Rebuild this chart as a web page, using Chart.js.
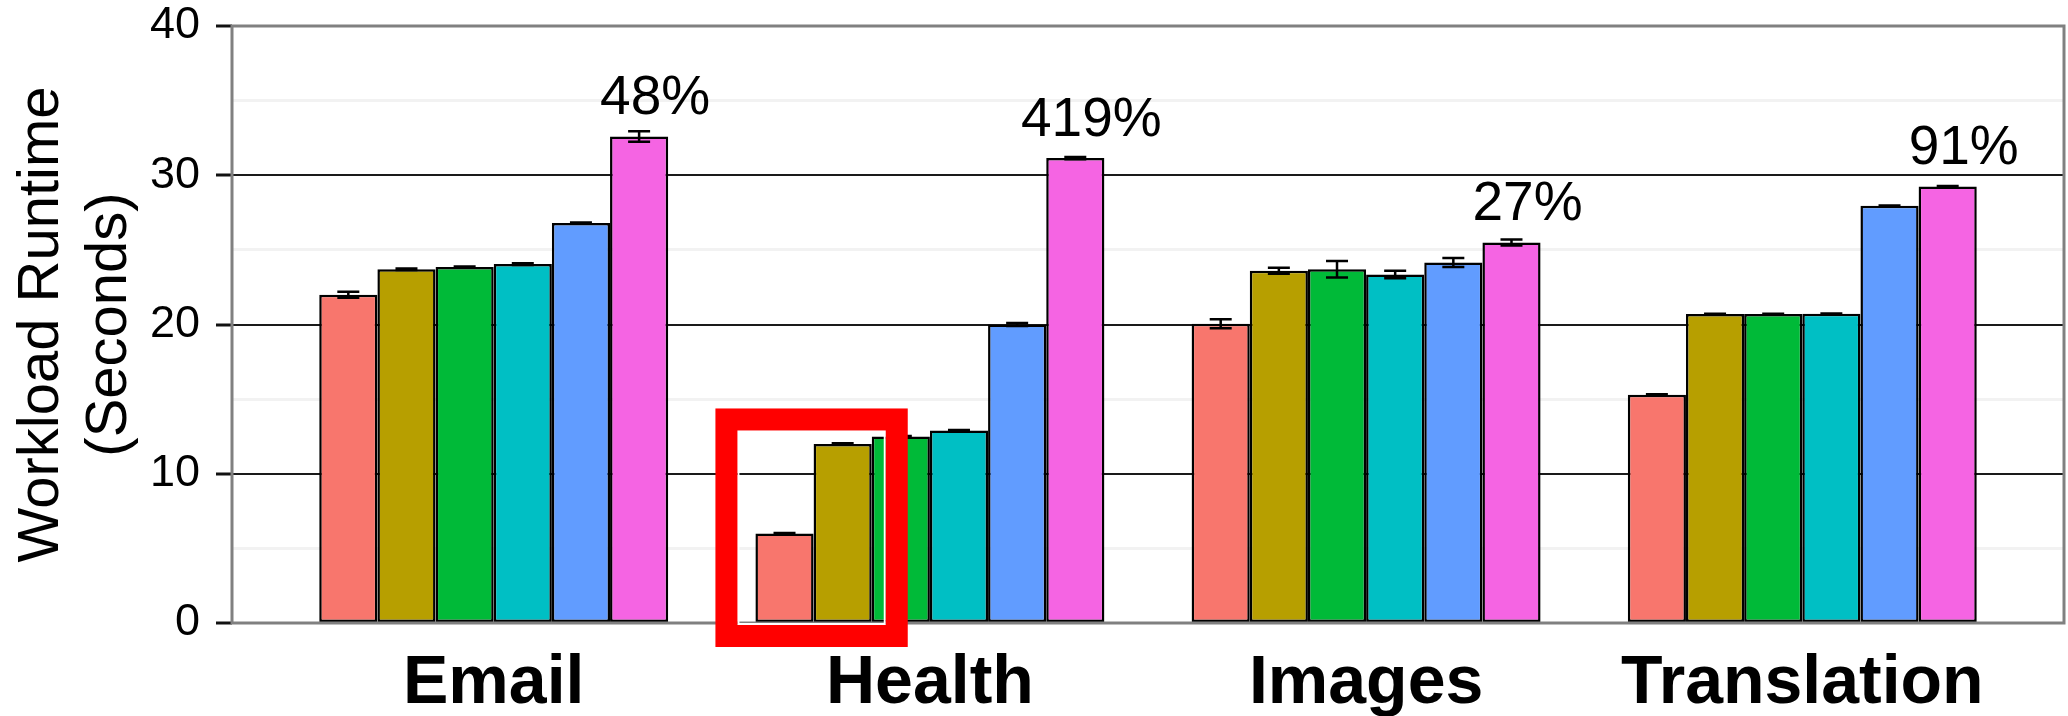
<!DOCTYPE html>
<html>
<head>
<meta charset="utf-8">
<title>Workload Runtime</title>
<script src="https://cdn.jsdelivr.net/npm/chart.js@4.4.1/dist/chart.umd.min.js"></script>
<style>
    html, body { margin: 0; padding: 0; background: #ffffff; }
    #chartBox { width: 2068px; height: 716px; }
</style>
</head>
<body>
<div id="chartBox"><canvas id="runtimeChart" width="2068" height="716"></canvas></div>
<script>
/* ================================
   WORKLOAD RUNTIME BAR CHART
   ================================ */

// Workloads along the x axis
const workloads = ['Email', 'Health', 'Images', 'Translation'];

// Mean runtime in seconds, one array per configuration (one value per workload)
const runtimeA = [22.0, 6.0, 20.05, 15.3];
const runtimeB = [23.7, 12.0, 23.6, 20.7];
const runtimeC = [23.85, 12.5, 23.7, 20.7];
const runtimeD = [24.05, 12.9, 23.35, 20.72];
const runtimeE = [26.8, 20.0, 24.15, 27.95];
const runtimeF = [32.6, 31.15, 25.5, 29.25];

// Half-width of the error bars, same layout as above
const errA = [0.2, 0.03, 0.3, 0.03];
const errB = [0.05, 0.05, 0.2, 0.02];
const errC = [0.04, 0.03, 0.55, 0.02];
const errD = [0.06, 0.03, 0.25, 0.02];
const errE = [0.04, 0.1, 0.3, 0.03];
const errF = [0.35, 0.08, 0.2, 0.03];

// Labelled y ticks (minor lines sit halfway between them)
const yTicks = [0, 10, 20, 30, 40];

const seriesValues = [runtimeA, runtimeB, runtimeC, runtimeD, runtimeE, runtimeF];
const seriesErrors = [errA, errB, errC, errD, errE, errF];
const seriesNames = ['A', 'B', 'C', 'D', 'E', 'F'];
const seriesColors = ['#F8766D', '#B79F00', '#00BA38', '#00BFC4', '#619CFF', '#F564E3'];

const FONT = '"Liberation Sans", Arial, Helvetica, sans-serif';

document.addEventListener('DOMContentLoaded', function() {
    initializeRuntimeChart();
});

// Gray frame around the plotting panel
const panelBorder = {
    id: 'panelBorder',
    afterDatasetsDraw(chart) {
        const { ctx, chartArea: a } = chart;
        ctx.save();
        ctx.strokeStyle = '#808080';
        ctx.lineWidth = 3;
        ctx.strokeRect(a.left, a.top, a.right - a.left, a.bottom - a.top);
        ctx.restore();
    }
};

// Error bars with small caps on every bar
const errorBars = {
    id: 'errorBars',
    afterDatasetsDraw(chart) {
        const { ctx } = chart;
        const y = chart.scales.y;
        ctx.save();
        ctx.strokeStyle = '#000000';
        ctx.lineWidth = 2.5;
        chart.data.datasets.forEach((ds, i) => {
            const meta = chart.getDatasetMeta(i);
            meta.data.forEach((bar, j) => {
                const v = seriesValues[i][j];
                const e = seriesErrors[i][j];
                const top = y.getPixelForValue(v + e);
                const bottom = y.getPixelForValue(v - e);
                const half = 11;
                ctx.beginPath();
                ctx.moveTo(bar.x, top);
                ctx.lineTo(bar.x, bottom);
                ctx.moveTo(bar.x - half, top);
                ctx.lineTo(bar.x + half, top);
                ctx.moveTo(bar.x - half, bottom);
                ctx.lineTo(bar.x + half, bottom);
                ctx.stroke();
            });
        });
        ctx.restore();
    }
};

// Slowdown of the last configuration relative to the first, above the last bar
const gainLabels = {
    id: 'gainLabels',
    afterDatasetsDraw(chart) {
        const { ctx } = chart;
        const last = seriesValues.length - 1;
        const meta = chart.getDatasetMeta(last);
        ctx.save();
        ctx.fillStyle = '#000000';
        ctx.font = '55px ' + FONT;
        ctx.textAlign = 'center';
        ctx.textBaseline = 'alphabetic';
        meta.data.forEach((bar, j) => {
            const pct = Math.round((seriesValues[last][j] / seriesValues[0][j] - 1) * 100);
            ctx.fillText(pct + '%', bar.x + 16, bar.y - 22);
        });
        ctx.restore();
    }
};

// Red frame around the first two Health bars
const highlightBox = {
    id: 'highlightBox',
    afterDraw(chart) {
        const { ctx } = chart;
        const y = chart.scales.y;
        const first = chart.getDatasetMeta(0).data[1];
        const second = chart.getDatasetMeta(1).data[1];
        const left = first.x - first.width / 2 - 18;
        const right = second.x + second.width / 2 + 14;
        const top = y.getPixelForValue(12.9);
        const bottom = y.getPixelForValue(0) + 2;
        const lw = 22;
        ctx.save();
        ctx.strokeStyle = '#ffffff';
        ctx.lineWidth = 2;
        ctx.strokeRect(left + 1, top + 1, right - left - 2, bottom - top - 2);
        ctx.strokeStyle = '#FF0000';
        ctx.lineWidth = lw;
        ctx.strokeRect(left - lw / 2, top - lw / 2, right - left + lw, bottom - top + lw);
        ctx.restore();
    }
};

function initializeRuntimeChart() {
    const ctx = document.getElementById('runtimeChart');
    if (!ctx) return;

    const datasets = seriesValues.map((vals, i) => ({
        label: seriesNames[i],
        data: vals.map((v, j) => ({ x: j + 1, y: v })),
        backgroundColor: seriesColors[i],
        borderColor: '#000000',
        borderWidth: 2.5,
        borderSkipped: false,
        categoryPercentage: 0.8,
        barPercentage: 1.0
    }));

    new Chart(ctx, {
        type: 'bar',
        data: { datasets: datasets },
        options: {
            responsive: false,
            animation: false,
            layout: {
                padding: { top: 26, right: 4, left: 0, bottom: 0 }
            },
            plugins: {
                legend: { display: false },
                tooltip: { enabled: false }
            },
            scales: {
                x: {
                    type: 'linear',
                    offset: false,
                    min: 0.4,
                    max: 4.6,
                    grid: { display: false },
                    border: { display: false },
                    afterBuildTicks: function(axis) {
                        axis.ticks = workloads.map((_, i) => ({ value: i + 1 }));
                    },
                    afterFit: function(scale) {
                        scale.height = 93;
                        scale.paddingLeft = 0;
                        scale.paddingRight = 0;
                    },
                    ticks: {
                        autoSkip: false,
                        maxRotation: 0,
                        padding: 12,
                        color: '#000000',
                        font: { family: FONT, size: 68, weight: 'bold' },
                        callback: function(value) {
                            return workloads[value - 1] || '';
                        }
                    }
                },
                y: {
                    min: 0,
                    max: 40,
                    border: { display: false },
                    afterFit: function(scale) {
                        scale.width = 232;
                        scale.paddingTop = 0;
                        scale.paddingBottom = 0;
                    },
                    grid: {
                        drawTicks: true,
                        tickLength: 16,
                        tickWidth: 3,
                        color: function(c) {
                            const v = c.tick.value;
                            if (v === 0 || v === 40) return 'rgba(0,0,0,0)';
                            return v % 10 === 5 ? '#f2f2f2' : '#1a1a1a';
                        },
                        lineWidth: function(c) {
                            return c.tick.value % 10 === 5 ? 3 : 2;
                        },
                        tickColor: function(c) {
                            return c.tick.value % 10 === 5 ? 'rgba(0,0,0,0)' : '#111111';
                        }
                    },
                    ticks: {
                        stepSize: 5,
                        padding: 16,
                        color: '#000000',
                        font: { family: FONT, size: 45, lineHeight: 1.0 },
                        callback: function(value) {
                            return yTicks.includes(value) ? String(value) : '';
                        }
                    },
                    title: {
                        display: true,
                        text: ['Workload Runtime', '(Seconds)'],
                        color: '#000000',
                        padding: { top: 8, bottom: 0 },
                        font: { family: FONT, size: 58, lineHeight: 68 / 58 }
                    }
                }
            }
        },
        plugins: [panelBorder, errorBars, gainLabels, highlightBox]
    });
}
</script>
</body>
</html>
